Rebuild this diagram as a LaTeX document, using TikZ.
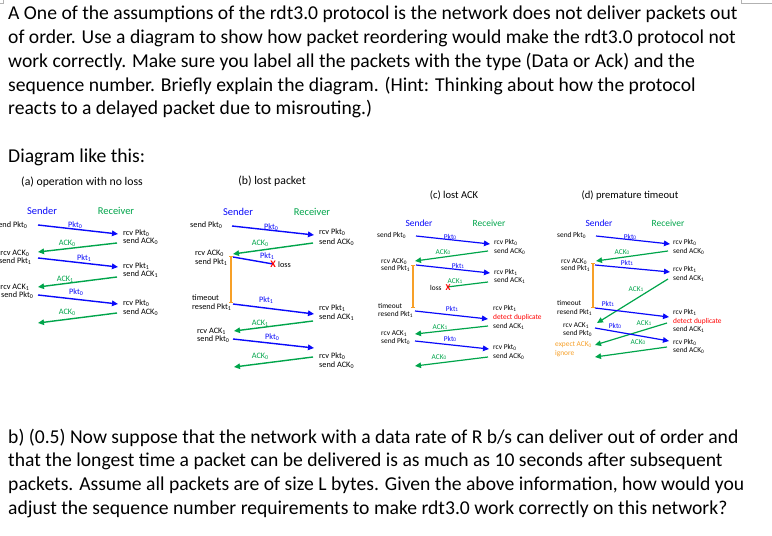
\documentclass[tikz,border=0pt]{standalone}
\usepackage{fontspec}
\setmainfont{Carlito}
\usetikzlibrary{arrows.meta}
\definecolor{pblue}{RGB}{10,10,250}
\definecolor{agreen}{RGB}{0,165,75}
\definecolor{tor}{RGB}{247,160,40}
\definecolor{dred}{RGB}{255,0,0}
\newcommand\nb[1]{\raisebox{-0.2ex}{\scalebox{0.72}{#1}}}
\newcommand\parrow[6]{\coordinate (#1s) at (#3); \coordinate (#1e) at (#4); \draw[#2] (#1s) -- (#1e); \node[#2lab] (#1l) at (#5) {#6};}
\tikzset{
 x=1bp, y=-1bp,
 big/.style={font=\fontsize{19.7}{23.7}\selectfont, anchor=base west, inner sep=0},
 tx/.style={inner sep=0},
 tw/.style={inner sep=0, anchor=mid west},
 te/.style={inner sep=0, anchor=mid east},
 pk/.style={draw=pblue, line width=1.4bp, -{Triangle[length=6bp,width=5.5bp]}},
 ak/.style={draw=agreen, line width=1.4bp, -{Triangle[length=6bp,width=5.5bp]}},
 pkn/.style={draw=pblue, line width=1.4bp},
 akn/.style={draw=agreen, line width=1.4bp},
 pklab/.style={text=pblue, inner sep=0},
 aklab/.style={text=agreen, inner sep=0},
 pknlab/.style={text=pblue, inner sep=0},
 aknlab/.style={text=agreen, inner sep=0},
 tmo/.style={draw=tor, line width=1.2bp, {Bar[width=4bp]}-{Bar[width=4bp]}},
 xmark/.style={text=dred, inner sep=0, font=\fontsize{10}{10}\selectfont\bfseries},
}
\begin{document}
\begin{tikzpicture}
\useasboundingbox (0,0) rectangle (772,536);
\fill[white] (0,0) rectangle (772,536);
\draw[gray!60, line width=0.8bp] (0,3) -- (3,3) -- (3,0);
\draw[gray!60, line width=0.8bp] (741,0) -- (741,3) -- (772,3);
% question text
\node[big] (q1) at (8,20) {A One of the assumptions of the rdt3.0 protocol is the network does not deliver packets out};
\node[big] (q2) at (8,43.7) {of order. Use a diagram to show how packet reordering would make the rdt3.0 protocol not};
\node[big] (q3) at (8,67.4) {work correctly. Make sure you label all the packets with the type (Data or Ack) and the};
\node[big] (q4) at (8,91.1) {sequence number. Briefly explain the diagram. (Hint: Thinking about how the protocol};
\node[big] (q5) at (8,114.8) {reacts to a delayed packet due to misrouting.)};
\node[big] (dl) at (8,163) {Diagram like this:};
\node[big] (b1) at (8,443) {b) (0.5) Now suppose that the network with a data rate of R b/s can deliver out of order and};
\node[big] (b2) at (8,466.7) {that the longest time a packet can be delivered is as much as 10 seconds after subsequent};
\node[big] (b3) at (8,490.4) {packets. Assume all packets are of size L bytes. Given the above information, how would you};
\node[big] (b4) at (8,514.1) {adjust the sequence number requirements to make rdt3.0 work correctly on this network?};
% ---------------- (a)
\begin{scope}[font=\fontsize{8.3}{9}\selectfont]
\node[tx, font=\fontsize{11.8}{13}\selectfont] (aT) at (82,182) {(a) operation with no loss};
\node[tx, text=pblue, font=\fontsize{10.5}{12}\selectfont] (aS) at (42,211) {Sender};
\node[tx, text=agreen, font=\fontsize{10.5}{12}\selectfont] (aR) at (116,211) {Receiver};
\node[te] (as1) at (27,225) {send Pkt\nb0};
\node[te] (as2) at (29,253) {rcv ACK\nb0};
\node[te] (as3) at (31,261) {send Pkt\nb1};
\node[te] (as4) at (29,287) {rcv ACK\nb1};
\node[te] (as5) at (33,295) {send Pkt\nb0};
\node[tw] (ar1) at (123,233) {rcv Pkt\nb0};
\node[tw] (ar2) at (123,241) {send ACK\nb0};
\node[tw] (ar3) at (123,266) {rcv Pkt\nb1};
\node[tw] (ar4) at (123,274) {send ACK\nb1};
\node[tw] (ar5) at (123,303) {rcv Pkt\nb0};
\node[tw] (ar6) at (123,312) {send ACK\nb0};
\parrow{a1}{pk}{38,225}{118,234}{75,225}{Pkt\nb0}
\parrow{a2}{ak}{117,243}{38,252}{67,243}{ACK\nb0}
\parrow{a3}{pk}{38,258}{118,267}{84,258}{Pkt\nb1}
\parrow{a4}{ak}{117,277}{38,287}{65,279}{ACK\nb1}
\parrow{a5}{pk}{38,295}{118,304}{76,292}{Pkt\nb0}
\parrow{a6}{ak}{117,313}{38,323}{67,312}{ACK\nb0}
\end{scope}
% ---------------- (b)
\begin{scope}[font=\fontsize{8.3}{9}\selectfont]
\node[tx, font=\fontsize{11.8}{13}\selectfont] (bT) at (272,181) {(b) lost packet};
\node[tx, text=pblue, font=\fontsize{10.5}{12}\selectfont] (bS) at (238,212) {Sender};
\node[tx, text=agreen, font=\fontsize{10.5}{12}\selectfont] (bR) at (312,212) {Receiver};
\node[tw] (bs1) at (190,225) {send Pkt\nb0};
\node[tw] (bs2) at (195,253) {rcv ACK\nb0};
\node[tw] (bs3) at (195,262) {send Pkt\nb1};
\node[tw] (bs4) at (192,298) {timeout};
\node[tw] (bs5) at (192,307) {resend Pkt\nb1};
\node[tw] (bs6) at (197,331) {rcv ACK\nb1};
\node[tw] (bs7) at (197,339) {send Pkt\nb0};
\node[tw] (br1) at (319,232) {rcv Pkt\nb0};
\node[tw] (br2) at (319,242) {send ACK\nb0};
\node[tw] (br3) at (319,308) {rcv Pkt\nb1};
\node[tw] (br4) at (319,317) {send ACK\nb1};
\node[tw] (br5) at (319,356) {rcv Pkt\nb0};
\node[tw] (br6) at (319,365) {send ACK\nb0};
\node[tw] (bloss) at (278,265) {loss};
\parrow{b1}{pk}{232,226}{314,235}{271,227}{Pkt\nb0}
\parrow{b2}{ak}{313,243}{233,254}{260,243}{ACK\nb0}
\parrow{b3}{pkn}{233,257}{273,264}{267,256}{Pkt\nb1}
\node[xmark] (bX) at (273,264) {X};
\parrow{b4}{pk}{233,304}{314,314}{266,300}{Pkt\nb1}
\parrow{b5}{ak}{313,321}{234,331}{260,323}{ACK\nb1}
\parrow{b6}{pk}{233,339}{314,348}{272,337}{Pkt\nb0}
\parrow{b7}{ak}{313,357}{234,367}{260,356}{ACK\nb0}
\coordinate (bt1) at (231,256); \coordinate (bt2) at (231,303);
\draw[tmo] (bt1) -- (bt2);
\end{scope}
% ---------------- (c)
\begin{scope}[font=\fontsize{7.4}{8}\selectfont, pk/.append style={line width=1.2bp}, ak/.append style={line width=1.2bp}, pkn/.append style={line width=1.2bp}, akn/.append style={line width=1.2bp}]
\node[tx, font=\fontsize{10.6}{12}\selectfont] (cT) at (454,195) {(c) lost ACK};
\node[tx, text=pblue, font=\fontsize{9.5}{11}\selectfont] (cS) at (419,223) {Sender};
\node[tx, text=agreen, font=\fontsize{9.5}{11}\selectfont] (cR) at (489,223) {Receiver};
\node[tw] (cs1) at (377,235) {send Pkt\nb0};
\node[tw] (cs2) at (381,261) {rcv ACK\nb0};
\node[tw] (cs3) at (381,268) {send Pkt\nb1};
\node[tw] (cs4) at (378,306) {timeout};
\node[tw] (cs5) at (378,314) {resend Pkt\nb1};
\node[tw] (cs6) at (381,333) {rcv ACK\nb1};
\node[tw] (cs7) at (381,341) {send Pkt\nb0};
\node[tw] (cr1) at (494,242) {rcv Pkt\nb0};
\node[tw] (cr2) at (494,251) {send ACK\nb0};
\node[tw] (cr3) at (494,272) {rcv Pkt\nb1};
\node[tw] (cr4) at (494,280) {send ACK\nb1};
\node[tw] (cr5) at (493,308) {rcv Pkt\nb1};
\node[tw, text=dred] (cr6) at (493,317) {detect duplicate};
\node[tw] (cr7) at (493,326) {send ACK\nb1};
\node[tw] (cr8) at (493,347) {rcv Pkt\nb0};
\node[tw] (cr9) at (493,356) {send ACK\nb0};
\node[tw] (closs) at (430,288) {loss};
\parrow{c1}{pk}{416,236}{490,244}{450,237}{Pkt\nb0}
\parrow{c2}{ak}{488,251}{415,261}{443,252}{ACK\nb0}
\parrow{c3}{pk}{416,265}{490,273}{458,266}{Pkt\nb1}
\parrow{c4}{akn}{488,282}{447,287}{455,281}{ACK\nb1}
\node[xmark, font=\fontsize{9}{9}\selectfont\bfseries] (cX) at (448,288) {X};
\parrow{c5}{pk}{415,311}{488,319}{452,309}{Pkt\nb1}
\parrow{c6}{ak}{488,326}{415,334}{440,327}{ACK\nb1}
\parrow{c7}{pk}{415,341}{489,349}{450,339}{Pkt\nb0}
\parrow{c8}{ak}{488,357}{415,366}{439,357}{ACK\nb0}
\coordinate (ct1) at (413,265); \coordinate (ct2) at (413,308);
\draw[tmo] (ct1) -- (ct2);
\end{scope}
% ---------------- (d)
\begin{scope}[font=\fontsize{7.4}{8}\selectfont, pk/.append style={line width=1.2bp}, ak/.append style={line width=1.2bp}]
\node[tx, font=\fontsize{10.6}{12}\selectfont] (dT) at (630,195) {(d) premature timeout};
\node[tx, text=pblue, font=\fontsize{9.5}{11}\selectfont] (dS) at (599,223) {Sender};
\node[tx, text=agreen, font=\fontsize{9.5}{11}\selectfont] (dR) at (668,223) {Receiver};
\node[tw] (ds1) at (557,235) {send Pkt\nb0};
\node[tw] (ds2) at (561,261) {rcv ACK\nb0};
\node[tw] (ds3) at (561,268) {send Pkt\nb1};
\node[tw] (ds4) at (557,303) {timeout};
\node[tw] (ds5) at (557,312) {resend Pkt\nb1};
\node[tw] (ds6) at (563,325) {rcv ACK\nb1};
\node[tw] (ds7) at (563,333) {send Pkt\nb0};
\node[tw, text=tor] (ds8) at (555,344) {expect ACK\nb0};
\node[tw, text=tor] (ds9) at (555,353) {ignore};
\node[tw] (dr1) at (673,242) {rcv Pkt\nb0};
\node[tw] (dr2) at (673,251) {send ACK\nb0};
\node[tw] (dr3) at (673,269) {rcv Pkt\nb1};
\node[tw] (dr4) at (673,278) {send ACK\nb1};
\node[tw] (dr5) at (673,312) {rcv Pkt\nb1};
\node[tw, text=dred] (dr6) at (673,321) {detect duplicate};
\node[tw] (dr7) at (673,329) {send ACK\nb1};
\node[tw] (dr8) at (673,342) {rcv Pkt\nb0};
\node[tw] (dr9) at (673,350) {send ACK\nb0};
\parrow{d1}{pk}{596,236}{670,244}{630,237}{Pkt\nb0}
\parrow{d2}{ak}{668,251}{596,261}{622,252}{ACK\nb0}
\parrow{d3}{pk}{595,265}{670,272}{627,263}{Pkt\nb1}
\parrow{d4}{ak}{668,279}{597,323}{636,289}{ACK\nb1}
\parrow{d5}{pk}{595,308}{669,317}{608,304}{Pkt\nb1}
\parrow{d6}{ak}{667,323}{595,345}{644,323}{ACK\nb1}
\parrow{d7}{pk}{595,328}{669,341}{615,326}{Pkt\nb0}
\parrow{d8}{ak}{667,347}{595,357}{638,342}{ACK\nb0}
\coordinate (dt1) at (593,263); \coordinate (dt2) at (593,308);
\draw[tmo] (dt1) -- (dt2);
\end{scope}
\end{tikzpicture}
\end{document}
